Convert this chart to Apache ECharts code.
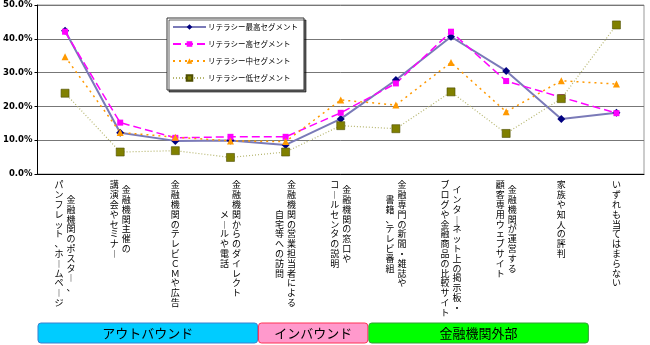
<!DOCTYPE html>
<html><head><meta charset="utf-8">
<script src="https://cdn.jsdelivr.net/npm/echarts@6/dist/echarts.min.js"></script>
<style>html,body{margin:0;padding:0;background:#fff}#c{width:650px;height:345px}</style>
</head><body><div id="c"></div>
<script>
// ---- data ----
const categories = [
  '金融機関のポスター、\nパンフレット、ホームページ',
  '金融機関主催の\n講演会やセミナー',
  '金融機関のテレビＣＭや広告',
  '金融機関からのダイレクト\nメールや電話',
  '金融機関の営業担当者による\n自宅等への訪問',
  '金融機関の窓口や\nコールセンタの説明',
  '金融専門の新聞・雑誌や\n書籍、テレビ番組',
  'インターネット上の掲示板・\nブログや金融商品の比較サイト',
  '金融機関が運営する\n顧客専用ウェブサイト',
  '家族や知人の評判',
  'いずれも当てはまらない'
];
const seriesNames = ['リテラシー最高セグメント','リテラシー高セグメント','リテラシー中セグメント','リテラシー低セグメント'];
const valuesTop  = [42.4,12.2,9.8,9.9,8.6,16.3,27.8,40.6,30.5,16.3,18.1];
const valuesHigh = [42.1,15.2,10.7,11.0,11.0,18.1,26.8,42.1,27.5,22.7,18.0];
const valuesMid  = [34.7,12.3,10.9,9.8,9.6,21.9,20.4,33.0,18.4,27.6,26.6];
const valuesLow  = [23.9,6.5,6.9,4.9,6.5,14.3,13.4,24.3,12.0,22.3,44.1];
const yMin = 0, yMax = 50, yStep = 10;
const groupNames = ['アウトバウンド','インバウンド','金融機関外部'];
const groupFirst = [0,4,6];
const groupLast  = [3,5,9];

// ---- styles ----
const JP = '"Noto Sans CJK JP", sans-serif';
const P = 9.8;
const rich = {
  c: {fontSize: 9, lineHeight: P, width: 10, align: 'center', fontFamily: JP, color: '#000'},
  h: {fontSize: 9, lineHeight: P, width: 12, fontFamily: JP}
};
for (let k = 1; k <= 16; k++) rich['o' + k] = {fontSize: 1, lineHeight: k * P / 2};

function colText(label, k) {
  const parts = label.split('\n');
  const two = parts.length > 1;
  const col = parts[k];
  if (col === undefined) return '';
  const maxLen = Math.max(...parts.map(p => [...p].length));
  const pad = maxLen - [...col].length;
  const lines = [];
  if (pad > 0) lines.push('{o' + pad + '|　}');
  for (const ch of col) {
    const g = ch === 'ー' ? '︱' : ch;
    let line = '{c|' + g + '}';
    if (two) line = k === 0 ? '{h|　}' + line : line + '{h|　}';
    lines.push(line);
  }
  return lines.join('\n');
}

const chart = echarts.init(document.getElementById('c'), null, {renderer: 'canvas'});
const xLabelBase = {interval: 0, margin: 6, verticalAlign: 'top', rich: rich};
const option = {
  animation: false,
  backgroundColor: '#fff',
  grid: {left: 36, right: 6, top: 5, bottom: 171, show: true, borderColor: '#999', borderWidth: 1},
  legend: {
    orient: 'vertical', left: 167, top: 18,
    backgroundColor: '#fff', borderColor: '#333', borderWidth: 1,
    shadowColor: 'rgba(0,0,0,0.6)', shadowOffsetX: 2, shadowOffsetY: 2, shadowBlur: 0,
    padding: [4, 6, 7, 5], itemGap: 7, itemWidth: 33, itemHeight: 7,
    textStyle: {fontSize: 7.5, lineHeight: 10, fontFamily: JP, color: '#000', padding: [0,0,0,-3]},
    data: seriesNames
  },
  xAxis: [
    {type: 'category', data: categories, position: 'bottom', boundaryGap: true,
     axisLine: {lineStyle: {color: '#000', width: 1}},
     axisTick: {inside: true, length: 4, interval: 0, lineStyle: {color: '#000'}},
     axisLabel: Object.assign({formatter: v => colText(v, 0)}, xLabelBase)},
    {type: 'category', data: categories, position: 'bottom', boundaryGap: true,
     axisLine: {show: false}, axisTick: {show: false}, splitLine: {show: false},
     axisLabel: Object.assign({formatter: v => colText(v, 1)}, xLabelBase)}
  ],
  yAxis: {
    type: 'value', min: yMin, max: yMax, interval: yStep,
    axisLine: {show: true, lineStyle: {color: '#000'}},
    axisTick: {show: true, length: 3, lineStyle: {color: '#000'}},
    splitLine: {lineStyle: {color: '#777', width: 1}},
    axisLabel: {formatter: v => v.toFixed(1) + '%', fontSize: 8.5, fontWeight: 'bold',
                fontFamily: '"DejaVu Sans", sans-serif', color: '#000', margin: 5}
  },
  series: [
    {name: seriesNames[0], type: 'line', data: valuesTop, symbol: 'diamond', symbolSize: 8,
     itemStyle: {color: '#000080'}, lineStyle: {color: '#7a7ab8', width: 2}},
    {name: seriesNames[1], type: 'line', data: valuesHigh, symbol: 'rect', symbolSize: 6,
     itemStyle: {color: '#ff00ff'}, lineStyle: {color: '#ff00ff', width: 1.5, type: [8, 4]}},
    {name: seriesNames[2], type: 'line', data: valuesMid, symbol: 'triangle', symbolSize: 7,
     itemStyle: {color: '#ff9900'}, lineStyle: {color: '#ff9900', width: 1.5, type: [2, 4]}},
    {name: seriesNames[3], type: 'line', data: valuesLow, symbol: 'rect', symbolSize: 8,
     itemStyle: {color: '#808000', borderColor: '#4d4d00', borderWidth: 0.6},
     lineStyle: {color: '#b5b56e', width: 1.2, type: [1, 2]}}
  ]
};
chart.setOption(option);

// group boxes aligned to category bands
const boxFill = ['#00ccff', '#ff99cc', '#00ff00'];
const boxStroke = ['#3a80d0', '#ff3355', '#33a033'];
const c0 = chart.convertToPixel({xAxisIndex: 0}, 0);
const c1 = chart.convertToPixel({xAxisIndex: 0}, 1);
const band = c1 - c0;
const graphics = [];
groupNames.forEach((name, i) => {
  const xs = chart.convertToPixel({xAxisIndex: 0}, groupFirst[i]) - band / 2 + 0.5;
  const xe = chart.convertToPixel({xAxisIndex: 0}, groupLast[i]) + band / 2 - 0.5;
  graphics.push({
    type: 'rect', shape: {x: xs, y: 323, width: xe - xs, height: 20, r: 3},
    style: {fill: boxFill[i], stroke: boxStroke[i], lineWidth: 1}
  });
  graphics.push({
    type: 'text', x: (xs + xe) / 2, y: 333,
    style: {text: name, fill: '#000', font: '13px "Noto Sans CJK JP"', textAlign: 'center', textVerticalAlign: 'middle'}
  });
});
chart.setOption({graphic: graphics});
</script></body></html>
